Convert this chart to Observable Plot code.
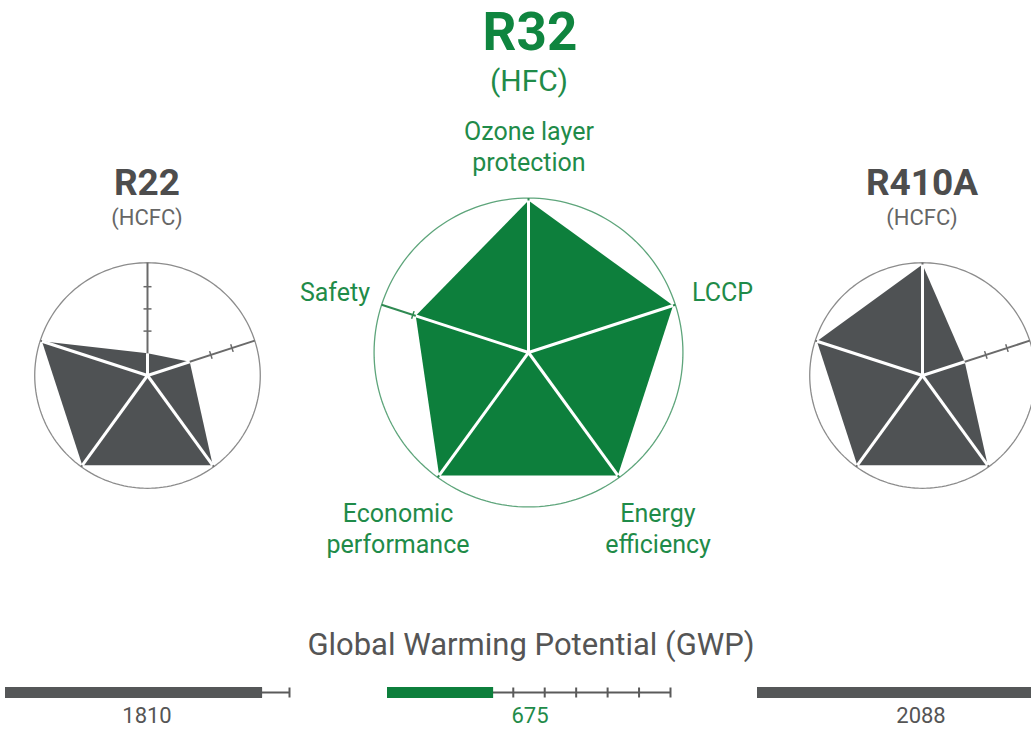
<!DOCTYPE html>
<html><head><meta charset="utf-8">
<script src="https://cdn.jsdelivr.net/npm/d3@7"></script>
<script src="https://cdn.jsdelivr.net/npm/@observablehq/plot@0.6"></script>
<style>
body{margin:0;background:#fff;overflow:hidden}
#c{position:relative;width:1031px;height:729px;overflow:hidden;font-family:Roboto,sans-serif}
.t{position:absolute;white-space:nowrap;line-height:normal}
.p{position:absolute}
.p svg{display:block;max-width:none !important;overflow:visible}
</style></head><body><div id="c"></div>
<script>
// ---- data ----
const axes = ["Ozone layer protection", "LCCP", "Energy efficiency", "Economic performance", "Safety"];
const refrigerants = ["R22", "R32", "R410A"];
const types = ["(HCFC)", "(HFC)", "(HCFC)"];
const r22 = [1, 2, 5, 5, 5];
const r32 = [5, 5, 5, 5, 3.9];
const r410a = [5, 2, 5, 5, 5];
const scoreTicks = [1, 2, 3, 4];
const gwp = [1810, 675, 2088];
const gwpTrack = [2000, 1800, 2200];
const gwpTickStep = 200;

// ---- styles ----
const GREEN = "#0d7f3c", GREEN_T = "#1f8b49", GRAY = "#4f5254", GRAY_T = "#555555";
const ASC = 0.928;
const c = document.getElementById("c");

function text(str, x, baseline, size, {weight = 400, color = GRAY_T, anchor = "middle"} = {}) {
  const d = document.createElement("div");
  d.className = "t";
  d.textContent = str;
  d.style.fontSize = size + "px";
  d.style.fontWeight = weight;
  d.style.color = color;
  d.style.top = (baseline - ASC * size) + "px";
  d.style.left = x + "px";
  d.style.transform = anchor === "middle" ? "translateX(-50%)" : anchor === "end" ? "translateX(-100%)" : "none";
  c.appendChild(d);
}
function place(node, left, top, w, h) {
  const d = document.createElement("div");
  d.className = "p";
  d.style.left = left + "px";
  d.style.top = top + "px";
  d.style.width = w + "px";
  d.style.height = h + "px";
  d.appendChild(node);
  c.appendChild(d);
}

function radar(values, {pxPerUnit, half, fill, axisColor, circleColor}) {
  const dom = half / pxPerUnit;
  const R = 5.08;
  const ang = axes.map((_, i) => (90 - 72 * i) * Math.PI / 180);
  const pts = values.map((v, i) => ({axis: axes[i], x: v * Math.cos(ang[i]), y: v * Math.sin(ang[i])}));
  const spokes = axes.map((a, i) => ({axis: a, x: R * Math.cos(ang[i]), y: R * Math.sin(ang[i])}));
  const tl = 4 / pxPerUnit;
  const ticks = [];
  axes.forEach((a, i) => scoreTicks.forEach(t => {
    if (t > values[i] + 0.02) {
      const cx = t * Math.cos(ang[i]), cy = t * Math.sin(ang[i]);
      const px = -Math.sin(ang[i]), py = Math.cos(ang[i]);
      ticks.push({x1: cx - tl * px, y1: cy - tl * py, x2: cx + tl * px, y2: cy + tl * py});
    }
  }));
  const circle = d3.range(0, 361, 2).map(d => ({x: R * Math.cos(d * Math.PI / 180), y: R * Math.sin(d * Math.PI / 180)}));
  return Plot.plot({
    width: 2 * half, height: 2 * half, margin: 0,
    x: {domain: [-dom, dom], axis: null}, y: {domain: [-dom, dom], axis: null},
    marks: [
      Plot.line(circle, {x: "x", y: "y", stroke: circleColor, strokeWidth: 1.3}),
      Plot.link(spokes, {x1: 0, y1: 0, x2: "x", y2: "y", stroke: axisColor, strokeWidth: 2}),
      Plot.link(ticks, {x1: "x1", y1: "y1", x2: "x2", y2: "y2", stroke: axisColor, strokeWidth: 1.5}),
      Plot.line(pts, {x: "x", y: "y", fill, stroke: "none", curve: "linear-closed"}),
      Plot.link(pts, {x1: 0, y1: 0, x2: "x", y2: "y", stroke: "white", strokeWidth: 3})
    ]
  });
}

function gwpBar(value, track, width, color) {
  return Plot.plot({
    width, height: 13, marginTop: 1, marginBottom: 1, marginLeft: 1, marginRight: 1,
    x: {domain: [0, track], axis: null},
    marks: [
      Plot.barX([track], {x1: 0, x2: d => d, fill: "#5a5a5a", insetTop: 4.5, insetBottom: 4.5}),
      Plot.tickX(d3.range(gwpTickStep, track + 1, gwpTickStep), {x: d => d, stroke: "#5a5a5a", strokeWidth: 2, insetTop: 0.5, insetBottom: 0.5}),
      Plot.barX([value], {x1: 0, x2: d => d, fill: color})
    ]
  });
}

// radars
place(radar(r22, {pxPerUnit: 22.2, half: 125, fill: GRAY, axisColor: "#6a6a6a", circleColor: "#8c8c8c"}), 147.3 - 125, 375 - 125, 250, 250);
place(radar(r32, {pxPerUnit: 30.4, half: 170, fill: GREEN, axisColor: "#2f8a52", circleColor: "#5ea57b"}), 528 - 170, 352 - 170, 340, 340);
place(radar(r410a, {pxPerUnit: 22.2, half: 125, fill: GRAY, axisColor: "#6a6a6a", circleColor: "#8c8c8c"}), 921.7 - 125, 375 - 125, 250, 250);

// titles
text(refrigerants[1], 530, 50, 53, {weight: 700, color: "#0f853f"});
text(types[1], 529, 90.5, 30, {color: GREEN_T});
text(refrigerants[0], 147, 195.5, 37, {weight: 700, color: "#4d4d4d"});
text(types[0], 147, 225, 22, {color: "#666"});
text(refrigerants[2], 922, 195.5, 37, {weight: 700, color: "#4d4d4d"});
text(types[2], 922, 225, 22, {color: "#666"});

// axis labels (R32)
text("Ozone layer", 529, 140, 25, {color: GREEN_T});
text("protection", 529, 171.5, 25, {color: GREEN_T});
text(axes[1], 692, 301, 25, {color: GREEN_T, anchor: "start"});
text(axes[4], 370, 301, 25, {color: GREEN_T, anchor: "end"});
text("Economic", 398, 522, 25, {color: GREEN_T});
text("performance", 398, 553, 25, {color: GREEN_T});
text("Energy", 658, 522, 25, {color: GREEN_T});
text("efficiency", 658, 553, 25, {color: GREEN_T});

// GWP
text("Global Warming Potential (GWP)", 531, 655, 31, {color: GRAY_T});
place(gwpBar(gwp[0], gwpTrack[0], 286, "#555758"), 4, 686, 286, 13);
place(gwpBar(gwp[1], gwpTrack[1], 285, GREEN), 386, 686, 285, 13);
place(gwpBar(gwp[2], gwpTrack[2], 348, "#555758"), 756, 686, 348, 13);
text(String(gwp[0]), 147, 723, 22, {color: GRAY_T});
text(String(gwp[1]), 530, 723, 22, {color: GREEN_T});
text(String(gwp[2]), 921, 723, 22, {color: GRAY_T});
</script></body></html>
